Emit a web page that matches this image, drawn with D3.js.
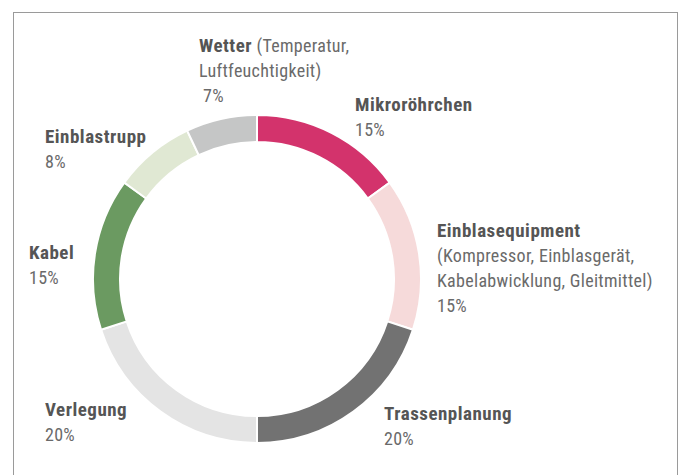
<!DOCTYPE html>
<html>
<head>
<meta charset="utf-8">
<script src="https://cdn.jsdelivr.net/npm/d3@7"></script>
<style>
  body { margin: 0; background: #fff; }
  text { font-family: "Liberation Sans Narrow", "Arial Narrow", "Roboto Condensed", sans-serif; font-size: 18px; letter-spacing: 0.3px; }
  .bold { font-size: 19px; font-weight: bold; letter-spacing: 0.5px; }
</style>
</head>
<body>
<div id="graph"></div>
<script>
// share of costs, clockwise from 12 o'clock
var names = ['Mikroröhrchen', 'Einblasequipment', 'Trassenplanung', 'Verlegung', 'Kabel', 'Einblastrupp', 'Wetter']
var values = [15, 15, 20, 20, 15, 8, 7]
var details = [[], ['(Kompressor, Einblasgerät,', 'Kabelabwicklung, Gleitmittel)'], [], [], [], [], [' (Temperatur,', 'Luftfeuchtigkeit)']]
var colors = ['#d3336c', '#f6dada', '#727272', '#e4e4e4', '#6b9a61', '#e0e8d3', '#c5c6c6']

// label layout (left x, first baseline y)
var labelPos = [[355, 111], [437, 237], [384, 420], [45, 416], [29, 259], [45, 143], [199, 52]]

var width = 684, height = 475
var cx = 257, cy = 279, outerR = 164, innerR = 137
var lineH = 25

var svg = d3.select('#graph').append('svg')
  .attr('width', width)
  .attr('height', height)

svg.append('rect')
  .attr('x', 13.5).attr('y', 12.5)
  .attr('width', 664).attr('height', 480)
  .attr('fill', 'none')
  .attr('stroke', '#9a9a9a')
  .attr('stroke-width', 1)

var data = names.map((d, i) => ({name: d, value: values[i], detail: details[i], color: colors[i], pos: labelPos[i]}))

var pie = d3.pie().sort(null).value(d => d.value)
var arc = d3.arc().innerRadius(innerR).outerRadius(outerR)

var g = svg.append('g').attr('transform', `translate(${cx},${cy})`)

g.selectAll('path').data(pie(data)).join('path')
  .attr('d', arc)
  .attr('fill', d => d.data.color)
  .attr('stroke', '#fff')
  .attr('stroke-width', 2)

var labelSel = svg.selectAll('g.label').data(data).join('g')
  .attr('class', 'label')
  .attr('transform', d => `translate(${d.pos[0]},${d.pos[1]})`)

labelSel.each(function(d){
  var sel = d3.select(this)
  var isWetter = d.name == 'Wetter'
  var t = sel.append('text').attr('fill', '#555')
  t.append('tspan').attr('class', 'bold').text(d.name)
  var rest = d.detail.slice()
  if (isWetter) t.append('tspan').text(rest.shift()).attr('fill', '#6a6a6a')

  rest.forEach((line, i) => {
    sel.append('text').attr('y', lineH*(i + 1)).attr('fill', '#6a6a6a').text(line)
  })
  sel.append('text')
    .attr('x', isWetter ? 4 : 0)
    .attr('y', lineH*(rest.length + 1))
    .attr('fill', '#6a6a6a')
    .text(d.value + '%')
})
</script>
</body>
</html>
